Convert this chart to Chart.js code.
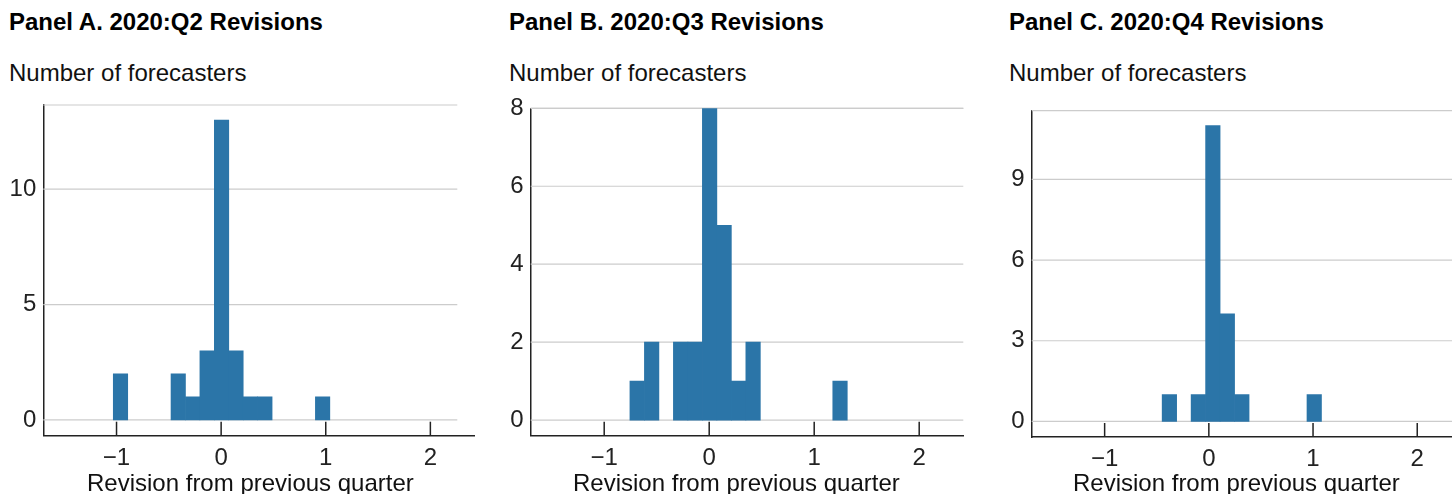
<!DOCTYPE html>
<html>
<head>
<meta charset="utf-8">
<script src="https://cdn.jsdelivr.net/npm/chart.js@4.4.1/dist/chart.umd.min.js"></script>
<style>
  html, body { margin: 0; padding: 0; background: #fff; overflow: hidden; width: 1452px; height: 494px; }
  body { position: relative; font-family: "Liberation Sans", Arial, Helvetica, sans-serif; color: #111; }
  .t { position: absolute; white-space: nowrap; font-size: 24px; line-height: 24px; }
  .title { font-weight: bold; color: #000; }
  canvas { position: absolute; }
</style>
</head>
<body>
<script>
// Histogram of forecaster revisions, one panel per quarter.
const panelTitles = ['Panel A. 2020:Q2 Revisions', 'Panel B. 2020:Q3 Revisions', 'Panel C. 2020:Q4 Revisions'];
const yAxisLabel = 'Number of forecasters';
const xAxisLabel = 'Revision from previous quarter';

// Bin layout (left edge of first bin, bin width) and counts per bin
const binStartA = -1.031, binWidthA = 0.138;
const countsA = [2, 0, 0, 0, 2, 1, 3, 13, 3, 1, 1, 0, 0, 0, 1];

const binStartB = -0.755, binWidthB = 0.138;
const countsB = [1, 2, 0, 2, 2, 8, 5, 1, 2, 0, 0, 0, 0, 0, 1];

const binStartC = -0.448, binWidthC = 0.139;
const countsC = [1, 0, 1, 11, 4, 1, 0, 0, 0, 0, 1];

// Tick labels
const xTicks = [-1, 0, 1, 2];
const yTicksA = [0, 5, 10];
const yTicksB = [0, 2, 4, 6, 8];
const yTicksC = [0, 3, 6, 9];

const BAR = '#2b75a8';
const FONT = '"Liberation Sans", Arial, Helvetica, sans-serif';
const CANVAS_W = 500, CANVAS_H = 404, CANVAS_TOP = 90;

// Light grid lines behind bars, plus inward tick marks on the x axis
const panelDecor = {
  id: 'panelDecor',
  beforeDatasetsDraw(chart, args, opts) {
    const { ctx, chartArea: a, scales: { y } } = chart;
    const right = a.right - (opts.gridInset || 0);
    const rows = y.ticks.map(t => y.getPixelForValue(t.value));
    rows.push(a.top);
    ctx.save();
    ctx.strokeStyle = '#cccccc';
    ctx.lineWidth = 1.2;
    rows.forEach(py => {
      ctx.beginPath();
      ctx.moveTo(a.left, py);
      ctx.lineTo(right, py);
      ctx.stroke();
    });
    ctx.restore();
  },
  afterDatasetsDraw(chart) {
    const { ctx, chartArea: a, scales: { x } } = chart;
    ctx.save();
    ctx.strokeStyle = '#222';
    ctx.lineWidth = 1.5;
    x.ticks.forEach(t => {
      const px = x.getPixelForValue(t.value);
      ctx.beginPath();
      ctx.moveTo(px, a.bottom);
      ctx.lineTo(px, a.bottom - 14);
      ctx.stroke();
    });
    ctx.restore();
  }
};

function addText(cls, text, left, top) {
  const d = document.createElement('div');
  d.className = cls;
  d.textContent = text;
  d.style.left = left + 'px';
  d.style.top = top + 'px';
  document.body.appendChild(d);
}

function fmt(v) {
  return v < 0 ? '\u2212' + Math.abs(v) : String(v);
}

function makePanel(p) {
  addText('t title', p.title, p.offset + 9, 10);
  addText('t', yAxisLabel, p.offset + 9, 61);

  const cv = document.createElement('canvas');
  cv.width = CANVAS_W;
  cv.height = CANVAS_H;
  cv.style.left = p.offset + 'px';
  cv.style.top = CANVAS_TOP + 'px';
  document.body.appendChild(cv);

  addText('t', xAxisLabel, p.offset + p.xTitleLeft, 471);

  const pts = p.counts.map((c, i) => ({ x: p.binStart + (i + 0.5) * p.binWidth, y: c }));
  const tickFont = { size: 24, family: FONT };

  new Chart(cv, {
    type: 'bar',
    data: {
      datasets: [{
        data: pts,
        backgroundColor: BAR,
        borderWidth: 0,
        barPercentage: 1,
        categoryPercentage: 1,
        inflateAmount: c => (c.raw && c.raw.y > 0 ? 0.33 : 0)
      }]
    },
    options: {
      responsive: false,
      animation: false,
      events: [],
      layout: { padding: { top: p.areaTop, right: CANVAS_W - p.areaRight, left: 0, bottom: 0 } },
      plugins: {
        legend: { display: false },
        tooltip: { enabled: false },
        panelDecor: { gridInset: p.gridInset }
      },
      scales: {
        x: {
          type: 'linear',
          offset: false,
          min: -1.7,
          max: 2.42,
          afterBuildTicks: s => { s.ticks = xTicks.map(v => ({ value: v })); },
          afterFit: s => { s.height = CANVAS_H - p.areaBottom; s.paddingLeft = 0; s.paddingRight = 0; },
          grid: { display: false, drawTicks: false, tickLength: 0 },
          border: { display: true, color: '#222', width: 1.5 },
          ticks: { padding: 8, color: '#222', font: tickFont, maxRotation: 0, autoSkip: false, callback: v => fmt(v) }
        },
        y: {
          min: -0.05 * p.yMax,
          max: p.yMax,
          afterBuildTicks: s => { s.ticks = p.yTicks.map(v => ({ value: v })); },
          afterFit: s => { s.width = p.areaLeft; s.paddingTop = 0; s.paddingBottom = 0; },
          grid: { display: false, drawTicks: false, tickLength: 0 },
          border: { display: true, color: '#222', width: 1.5 },
          ticks: { padding: 7, color: '#222', font: tickFont, autoSkip: false, callback: v => fmt(v) }
        }
      }
    },
    plugins: [panelDecor]
  });
}

makePanel({ title: panelTitles[0], offset: 0, counts: countsA, binStart: binStartA, binWidth: binWidthA,
  yTicks: yTicksA, yMax: 13.65, areaLeft: 43.3, areaRight: 474.3, areaTop: 15, areaBottom: 345.7,
  gridInset: 17, xTitleLeft: 87 });
makePanel({ title: panelTitles[1], offset: 500, counts: countsB, binStart: binStartB, binWidth: binWidthB,
  yTicks: yTicksB, yMax: 8, areaLeft: 30.7, areaRight: 463.3, areaTop: 18.3, areaBottom: 345.7,
  gridInset: 0, xTitleLeft: 73 });
makePanel({ title: panelTitles[2], offset: 1000, counts: countsC, binStart: binStartC, binWidth: binWidthC,
  yTicks: yTicksC, yMax: 11.55, areaLeft: 31.7, areaRight: 1461 - 1000, areaTop: 20.7, areaBottom: 347,
  gridInset: 0, xTitleLeft: 73 });
</script>
</body>
</html>
